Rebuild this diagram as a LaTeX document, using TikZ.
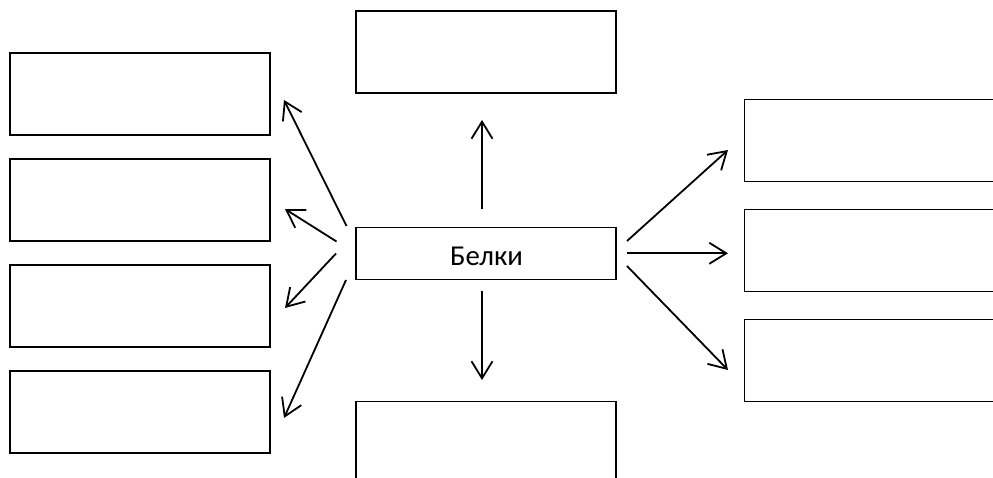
\documentclass[tikz,border=0pt]{standalone}
\usepackage{fontspec}
\setmainfont{Carlito}
\usetikzlibrary{arrows.meta}
\begin{document}
\begin{tikzpicture}[x=1pt,y=-1pt,
  box/.style={draw=black, line width=1.1pt, rectangle, inner sep=0pt, outer sep=0pt},
  lbox/.style={box, minimum width=260pt, minimum height=82pt},
  conn/.style={line width=1.8pt, -{Straight Barb[length=17pt,width=21pt,line width=1.8pt]}}]
\useasboundingbox (0,0) rectangle (993,478);
\clip (0,0) rectangle (993,478);
% left boxes
\node[lbox] (L1) at (140,94) {};
\node[lbox] (L2) at (140,200) {};
\node[lbox] (L3) at (140,306) {};
\node[lbox] (L4) at (140,412) {};
% top and bottom
\node[lbox] (T) at (486,52) {};
\node[lbox] (B) at (486,442.5) {};
% right boxes (cut by the right edge)
\node[box, minimum width=300pt, minimum height=82pt, anchor=north west] (R1) at (744.5,99.5) {};
\node[box, minimum width=300pt, minimum height=82pt, anchor=north west] (R2) at (744.5,209.5) {};
\node[box, minimum width=300pt, minimum height=82pt, anchor=north west] (R3) at (744.5,319.5) {};
% center
\node[box, minimum width=260pt, minimum height=51.5pt] (C) at (486,253.5) {};
\node[font=\fontsize{28.8}{30}\selectfont, inner sep=0pt, anchor=base] (Ct) at (486.5,266) {Белки};
% connector end points
\coordinate (sU) at (482,209); \coordinate (eU) at (482,120);
\coordinate (sD) at (482,291); \coordinate (eD) at (482,380);
\coordinate (sR1) at (627,241); \coordinate (eR1) at (728,150);
\coordinate (sR2) at (627,253.3); \coordinate (eR2) at (728,253.3);
\coordinate (sR3) at (627,266); \coordinate (eR3) at (728,370);
\coordinate (sL1) at (346.5,226); \coordinate (eL1) at (284,100);
\coordinate (sL2) at (336.5,241.5); \coordinate (eL2) at (285,209);
\coordinate (sL3) at (336,253.5); \coordinate (eL3) at (285,308);
\coordinate (sL4) at (346,280); \coordinate (eL4) at (284,418);
\draw[conn] (sU) -- (eU);
\draw[conn] (sD) -- (eD);
\draw[conn] (sR1) -- (eR1);
\draw[conn] (sR2) -- (eR2);
\draw[conn] (sR3) -- (eR3);
\draw[conn] (sL1) -- (eL1);
\draw[conn] (sL2) -- (eL2);
\draw[conn] (sL3) -- (eL3);
\draw[conn] (sL4) -- (eL4);
\end{tikzpicture}
\end{document}
